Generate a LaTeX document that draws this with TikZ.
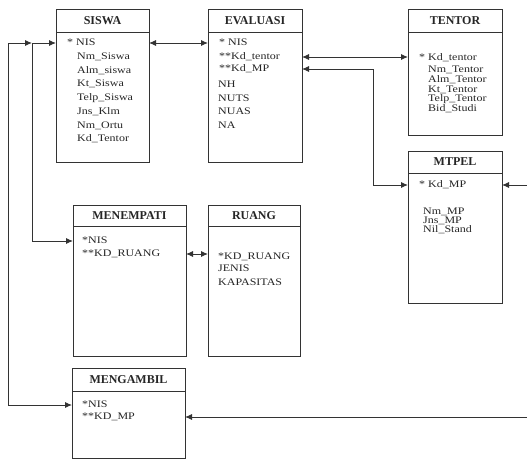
\documentclass[tikz,border=0pt]{standalone}
\usepackage{fontspec}
\setmainfont{Liberation Serif}
\newfontfamily\attrfont[FakeStretch=1.2]{Liberation Serif}
\usetikzlibrary{arrows.meta}
\newcommand\entbox[7]{%
  \node[ent, minimum width={#4-#2}, minimum height={#5-#3}] (#1) at (#2,#3) {};
  \draw[sep] (#1.west |- 0,#6) -- (#1.east |- 0,#6);
  \node[ttl] (#1T) at ({(#2+#4)/2},{(#3+#6)/2}) {#7};
}
\begin{document}
\begin{tikzpicture}[x=1pt,y=-1pt,
  ent/.style={draw=black!80, line width=0.9pt, anchor=north west, inner sep=0pt, outer sep=0pt},
  sep/.style={draw=black!80, line width=0.9pt},
  ttl/.style={font=\fontsize{12}{12}\selectfont\bfseries, text=black!85, inner sep=0pt},
  attr/.style={font=\attrfont\fontsize{10}{10}\selectfont, text=black!85, anchor=west, inner sep=0pt, text height=1.5ex, text depth=0.25ex},
  rel/.style={draw=black!80, line width=0.9pt, {Latex[length=7pt,width=6pt]}-{Latex[length=7pt,width=6pt]}},
]
\useasboundingbox (0,0) rectangle (527,460);
\fill[white] (0,0) rectangle (527,460);

% entities
\entbox{siswa}{56}{9}{149}{162}{32}{SISWA}
\entbox{evaluasi}{208}{9}{302}{162}{32}{EVALUASI}
\entbox{tentor}{408}{9}{502}{135}{32}{TENTOR}
\entbox{mtpel}{408}{151}{502}{303}{173}{MTPEL}
\entbox{menempati}{73}{205}{186}{356}{226}{MENEMPATI}
\entbox{ruang}{208}{205}{300}{356}{226}{RUANG}
\entbox{mengambil}{72}{368}{185}{458}{391}{MENGAMBIL}

% SISWA attributes
\node[attr] (sNIS) at (67,43) {* NIS};
\node[attr] (sNm)  at (77,56.7) {Nm\_Siswa};
\node[attr] (sAlm) at (77,70.4) {Alm\_siswa};
\node[attr] (sKt)  at (77,84.1) {Kt\_Siswa};
\node[attr] (sTlp) at (77,97.8) {Telp\_Siswa};
\node[attr] (sJns) at (77,111.5) {Jns\_Klm};
\node[attr] (sOrt) at (77,125.2) {Nm\_Ortu};
\node[attr] (sKdT) at (77,138.9) {Kd\_Tentor};

% EVALUASI attributes
\node[attr] (eNIS)  at (219,43) {* NIS};
\node[attr] (eKdT)  at (219,57) {**Kd\_tentor};
\node[attr] (eKdMP) at (219,69) {**Kd\_MP};
\node[attr] (eNH)   at (218,84.4) {NH};
\node[attr] (eNUTS) at (218,98.2) {NUTS};
\node[attr] (eNUAS) at (218,112) {NUAS};
\node[attr] (eNA)   at (218,125.8) {NA};

% TENTOR attributes
\node[attr] (tKd)  at (419,58) {* Kd\_tentor};
\node[attr] (tNm)  at (428,70) {Nm\_Tentor};
\node[attr] (tAlm) at (428,80) {Alm\_Tentor};
\node[attr] (tKt)  at (428,90) {Kt\_Tentor};
\node[attr] (tTlp) at (428,99) {Telp\_Tentor};
\node[attr] (tBid) at (428,108.5) {Bid\_Studi};

% MTPEL attributes
\node[attr] (mKd)  at (419,185) {* Kd\_MP};
\node[attr] (mNm)  at (423,212) {Nm\_MP};
\node[attr] (mJns) at (423,221) {Jns\_MP};
\node[attr] (mNil) at (423,230) {Nil\_Stand};

% MENEMPATI attributes
\node[attr] (mnNIS) at (82,241) {*NIS};
\node[attr] (mnKD)  at (82,254) {**KD\_RUANG};

% RUANG attributes
\node[attr] (rKD)  at (218,257) {*KD\_RUANG};
\node[attr] (rJen) at (218,269) {JENIS};
\node[attr] (rKap) at (218,283) {KAPASITAS};

% MENGAMBIL attributes
\node[attr] (mgNIS) at (82,405) {*NIS};
\node[attr] (mgKD)  at (82,417) {**KD\_MP};

% helper coordinates for bends
\coordinate (outerX) at (8,0);
\coordinate (innerX) at (32,0);
\coordinate (bendX)  at (373,0);
\coordinate (rightX) at (529,0);

% connectors
\draw[rel] (siswa.east |- sNIS) -- (evaluasi.west |- sNIS);
\draw[rel] (evaluasi.east |- eKdT) -- (tentor.west |- eKdT);
\draw[rel] (evaluasi.east |- eKdMP) -- (bendX |- eKdMP) -- (bendX |- mKd) -- (mtpel.west |- mKd);
\draw[rel] (siswa.west |- sNIS) -- (innerX |- sNIS) -- (innerX |- mnNIS) -- (menempati.west |- mnNIS);
\draw[rel] (innerX |- sNIS) -- (outerX |- sNIS) -- (outerX |- mgNIS) -- (mengambil.west |- mgNIS);
\draw[rel] (menempati.east |- mnKD) -- (ruang.west |- mnKD);
\draw[rel] (mtpel.east |- mKd) -- (rightX |- mKd) -- (rightX |- mgKD) -- (mengambil.east |- mgKD);
\end{tikzpicture}
\end{document}
